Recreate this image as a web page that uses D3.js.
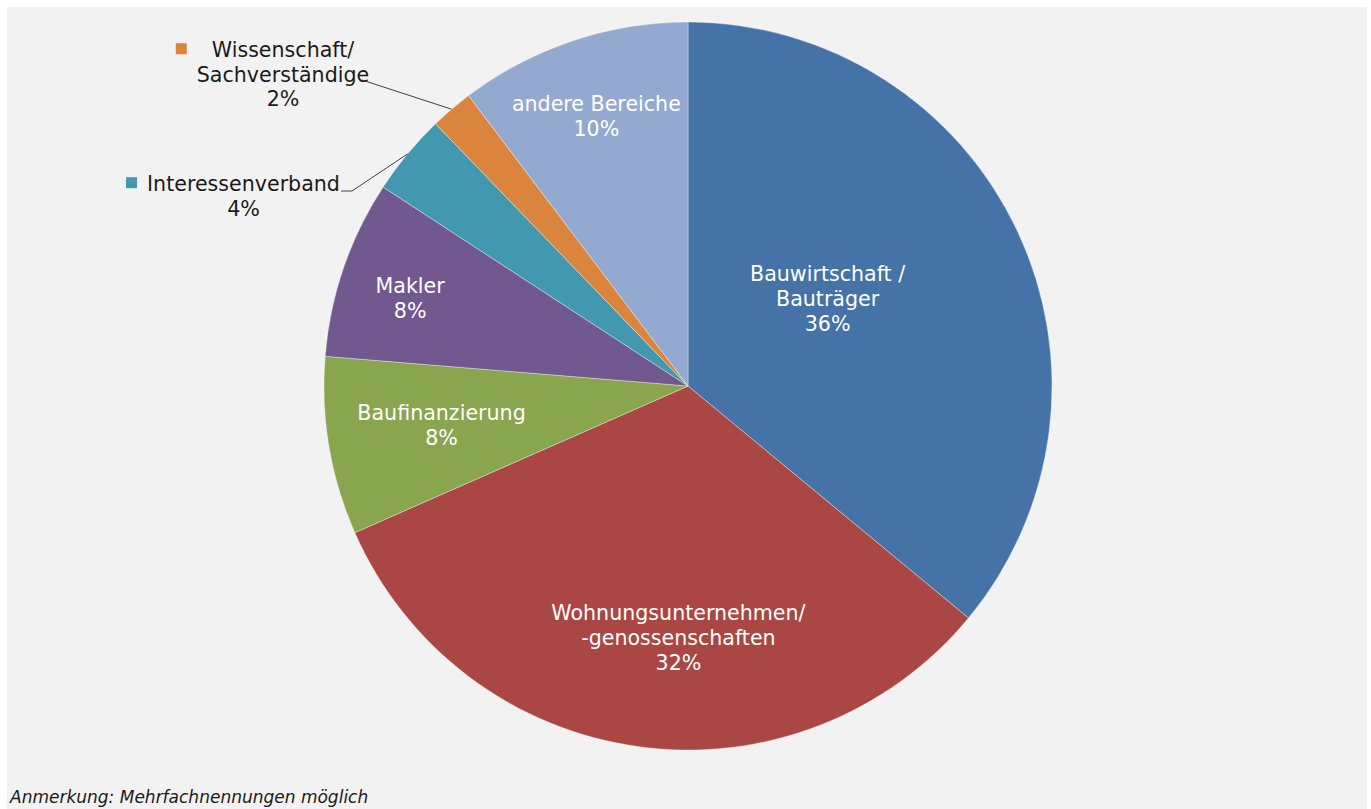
<!DOCTYPE html>
<html><head>
<meta charset="utf-8">
<title>Bereiche</title>
<script src="https://cdnjs.cloudflare.com/ajax/libs/d3/7.8.5/d3.min.js"></script>
<style>
body { margin: 0; background: #fff; }
svg text { font-family: 'DejaVu Sans', Verdana, sans-serif; }
</style>
</head>
<body>
<div id="chart"></div>
<script>
// data, clockwise from 12 o'clock
const categories = [
  "Bauwirtschaft /\nBauträger",
  "Wohnungsunternehmen/\n-genossenschaften",
  "Baufinanzierung",
  "Makler",
  "Interessenverband",
  "Wissenschaft/\nSachverständige",
  "andere Bereiche"
];
const values = [36.0, 32.4, 7.9, 7.9, 3.6, 1.9, 10.3];
const colors = ["#4572a7", "#aa4643", "#89a54e", "#71588f", "#4198af", "#db843d", "#93a9cf"];
const note = "Anmerkung: Mehrfachnennungen möglich";

// label placement: inside labels as polar (radius share, angle shift in deg),
// outside labels as first-line anchor + leader start
const inside = {
  0: {r: 0.442, da: -4.6},
  1: {r: 0.712, da: -5.8},
  2: {r: 0.689, da: -1.1},
  3: {r: 0.795, da: -2.7},
  6: {r: 0.764, da: -0.7}
};
const outside = {
  4: {x: 243.5, y: 190.7, lead: [[341, 191], [352, 191]]},
  5: {x: 283, y: 56.7, lead: [[362, 80]]}
};

const W = 1371, H = 809;
const cx = 688, cy = 386, R = 364;
const lh = 24.8;
const fs = 20.6;

const svg = d3.select("#chart").append("svg")
    .attr("width", W).attr("height", H);

svg.append("rect")
    .attr("x", 7).attr("y", 7)
    .attr("width", 1360).attr("height", H - 7)
    .attr("fill", "#f2f2f2");

const rows = categories.map((c, i) => ({name: c, value: values[i], color: colors[i], i}));
const total = d3.sum(values);

const pie = d3.pie().sort(null).value(d => d.value);
const arc = d3.arc().innerRadius(0).outerRadius(R);
const arcs = pie(rows);

const g = svg.append("g").attr("transform", `translate(${cx},${cy})`);

g.selectAll("path.slice")
  .data(arcs)
  .join("path")
    .attr("class", "slice")
    .attr("d", arc)
    .attr("fill", d => d.data.color)
    .attr("stroke", "rgba(255,255,255,0.45)")
    .attr("stroke-width", 0.8);

const pct = d => Math.round(d.value / total * 100) + "%";

// labels inside the slices
arcs.filter(d => inside[d.data.i]).forEach(d => {
  const p = inside[d.data.i];
  const a = (d.startAngle + d.endAngle) / 2 + p.da * Math.PI / 180;
  const rr = p.r * R;
  const x = rr * Math.sin(a), y = -rr * Math.cos(a);
  const lines = d.data.name.split("\n").concat(pct(d.data));
  const t = g.append("text")
      .attr("text-anchor", "middle")
      .attr("fill", "#ffffff")
      .attr("font-size", fs);
  lines.forEach((s, k) => {
    t.append("tspan")
      .attr("x", x)
      .attr("y", y + (k - (lines.length - 1) / 2) * lh)
      .text(s);
  });
});

// labels outside with legend key and leader line
arcs.filter(d => outside[d.data.i]).forEach(d => {
  const p = outside[d.data.i];
  const lines = d.data.name.split("\n").concat(pct(d.data));
  const t = svg.append("text")
      .attr("text-anchor", "middle")
      .attr("fill", "#1a1a1a")
      .attr("font-size", fs);
  lines.forEach((s, k) => {
    t.append("tspan").attr("x", p.x).attr("y", p.y + k * lh).text(s);
  });
  const bb = t.node().getBBox();
  svg.append("rect")
      .attr("x", bb.x - 21).attr("y", p.y - 13.5)
      .attr("width", 11).attr("height", 11)
      .attr("fill", d.data.color);
  const a = (d.startAngle + d.endAngle) / 2;
  const end = [cx + R * Math.sin(a), cy - R * Math.cos(a)];
  svg.append("path")
      .attr("d", d3.line()(p.lead.concat([end])))
      .attr("fill", "none")
      .attr("stroke", "#404040")
      .attr("stroke-width", 1);
});

svg.append("text")
    .attr("x", 10).attr("y", 803)
    .attr("font-size", 17)
    .attr("font-style", "italic")
    .attr("fill", "#1a1a1a")
    .text(note);
</script>
</body>
</html>
